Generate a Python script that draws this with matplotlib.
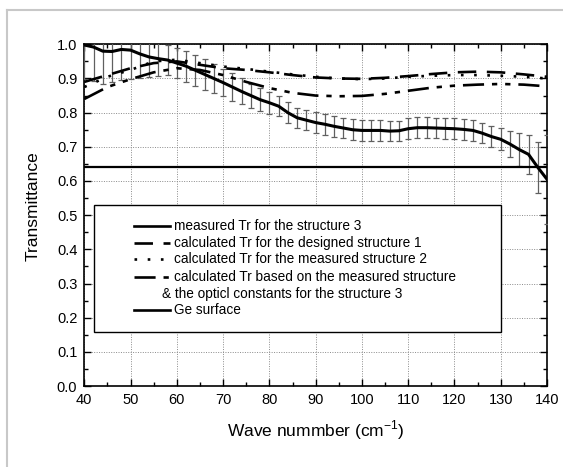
import matplotlib
matplotlib.use("Agg")
import matplotlib.pyplot as plt
from matplotlib.patches import Rectangle
from matplotlib.lines import Line2D
from matplotlib.ticker import MultipleLocator

plt.rcParams['font.family'] = ['Liberation Sans', 'DejaVu Sans']
plt.rcParams['mathtext.fontset'] = 'custom'
plt.rcParams['mathtext.rm'] = 'Liberation Sans'

# measured transmittance for structure 3 (with error bars)
wn_meas = [40, 42, 44, 46, 48, 50, 52, 54, 56, 58, 60, 62, 64, 66, 68, 70, 72, 74, 76, 78,
           80, 82, 84, 86, 88, 90, 92, 94, 96, 98, 100, 102, 104, 106, 108, 110, 112, 114,
           116, 118, 120, 122, 124, 126, 128, 130, 132, 134, 136, 138, 140]
tr_meas = [0.998, 0.992, 0.980, 0.979, 0.985, 0.983, 0.972, 0.963, 0.958, 0.954, 0.945,
           0.936, 0.924, 0.912, 0.900, 0.888, 0.875, 0.862, 0.850, 0.838, 0.829, 0.819,
           0.800, 0.785, 0.778, 0.771, 0.766, 0.760, 0.755, 0.750, 0.748, 0.748, 0.748,
           0.746, 0.747, 0.753, 0.756, 0.756, 0.755, 0.754, 0.753, 0.751, 0.748, 0.740,
           0.730, 0.722, 0.708, 0.692, 0.678, 0.640, 0.605]
tr_err = [0.10, 0.10, 0.095, 0.09, 0.09, 0.085, 0.07, 0.06, 0.05, 0.045, 0.045, 0.045,
          0.045, 0.045, 0.042, 0.040, 0.040, 0.038, 0.035, 0.033, 0.032, 0.030, 0.030,
          0.030, 0.030, 0.030, 0.030, 0.030, 0.030, 0.030, 0.030, 0.030, 0.030, 0.030,
          0.030, 0.030, 0.030, 0.030, 0.030, 0.030, 0.030, 0.030, 0.030, 0.030, 0.030,
          0.032, 0.038, 0.048, 0.058, 0.075, 0.13]

# calculated curves
wn_calc = [40, 45, 50, 55, 60, 65, 70, 75, 80, 85, 90, 95, 100, 105, 110, 115, 120, 125,
           130, 135, 140]
tr_design1 = [0.890, 0.910, 0.930, 0.945, 0.950, 0.940, 0.930, 0.925, 0.918, 0.910, 0.903,
              0.900, 0.899, 0.902, 0.907, 0.913, 0.918, 0.920, 0.918, 0.912, 0.905]
tr_meas2 = [0.875, 0.905, 0.925, 0.950, 0.955, 0.945, 0.935, 0.928, 0.920, 0.912, 0.905,
            0.900, 0.898, 0.900, 0.905, 0.908, 0.910, 0.910, 0.908, 0.905, 0.900]
tr_calc3 = [0.840, 0.875, 0.898, 0.918, 0.930, 0.925, 0.910, 0.890, 0.872, 0.858, 0.850,
            0.848, 0.849, 0.855, 0.864, 0.873, 0.879, 0.882, 0.884, 0.882, 0.877]

# bare Ge surface
wn_ge = [40, 140]
tr_ge = [0.64, 0.64]

legend_labels = ['measured Tr for the structure 3',
                 'calculated Tr for the designed structure 1',
                 'calculated Tr for the measured structure 2',
                 'calculated Tr based on the measured structure',
                 '& the opticl constants for the structure 3',
                 'Ge surface']

style_dash = (0, (7, 4))
style_dot = (0, (1, 4))
style_dashdot = (0, (8, 3, 2, 3, 2, 3))

fig = plt.figure(figsize=(5.63, 4.67), dpi=100)
ax = fig.add_axes([0.1497, 0.1734, 0.8219, 0.7317])

ax.errorbar(wn_meas, tr_meas, yerr=tr_err, fmt='none', ecolor='#606060',
            elinewidth=0.9, capsize=2.5, capthick=0.9, zorder=3)
ax.plot(wn_meas, tr_meas, color='black', lw=2.2, zorder=5)
ax.plot(wn_calc, tr_design1, color='black', lw=1.9, linestyle=style_dash, zorder=4)
ax.plot(wn_calc, tr_meas2, color='black', lw=1.9, linestyle=style_dot, zorder=4)
ax.plot(wn_calc, tr_calc3, color='black', lw=1.9, linestyle=style_dashdot, zorder=4)
ax.plot(wn_ge, tr_ge, color='black', lw=1.6, zorder=4)

ax.set_xlim(40, 140)
ax.set_ylim(0, 1.0)
ax.xaxis.set_major_locator(MultipleLocator(10))
ax.xaxis.set_minor_locator(MultipleLocator(5))
ax.yaxis.set_major_locator(MultipleLocator(0.1))
ax.yaxis.set_minor_locator(MultipleLocator(0.05))
ax.yaxis.set_major_formatter(plt.FormatStrFormatter('%.1f'))
ax.tick_params(which='both', direction='in', top=True, right=True, labelsize=10.5, width=1)
ax.tick_params(which='major', length=5, pad=5)
ax.tick_params(which='minor', length=3)
ax.grid(True, which='major', linestyle=(0, (1, 1.5)), color='#8a8a8a', lw=0.7)
for sp in ax.spines.values():
    sp.set_linewidth(1.2)

ax.set_xlabel('Wave nummber (cm$^{-1}$)', fontsize=12.5, labelpad=8)
ax.set_ylabel('Transmittance', fontsize=12.5)
ax.yaxis.set_label_coords(-0.094, 0.526)

# legend drawn as a box with sample lines
ax.add_patch(Rectangle((42.2, 0.158), 130 - 42.2, 0.531 - 0.158, facecolor='white',
                       edgecolor='black', lw=1.0, zorder=6))
rows = [0.468, 0.419, 0.371, 0.320, 0.270, 0.222]
styles = ['-', style_dash, style_dot, style_dashdot, None, '-']
for lab, yy, st in zip(legend_labels, rows, styles):
    if st is None:
        ax.text(56.7, yy, lab, fontsize=9.8, va='center', ha='left', zorder=7)
        continue
    ax.add_line(Line2D([50.7, 58.5], [yy, yy], color='black', lw=1.9, linestyle=st, zorder=7))
    ax.text(59.4, yy, lab, fontsize=9.8, va='center', ha='left', zorder=7)

# light frame of the original figure
fig.add_artist(Line2D([7.5 / 563, 1], [1 - 10 / 467, 1 - 10 / 467], color='#c8c8c8', lw=1.5))
fig.add_artist(Line2D([7.5 / 563, 7.5 / 563], [0, 1 - 10 / 467], color='#c8c8c8', lw=1.5))

fig.savefig('out.png', dpi=100)
